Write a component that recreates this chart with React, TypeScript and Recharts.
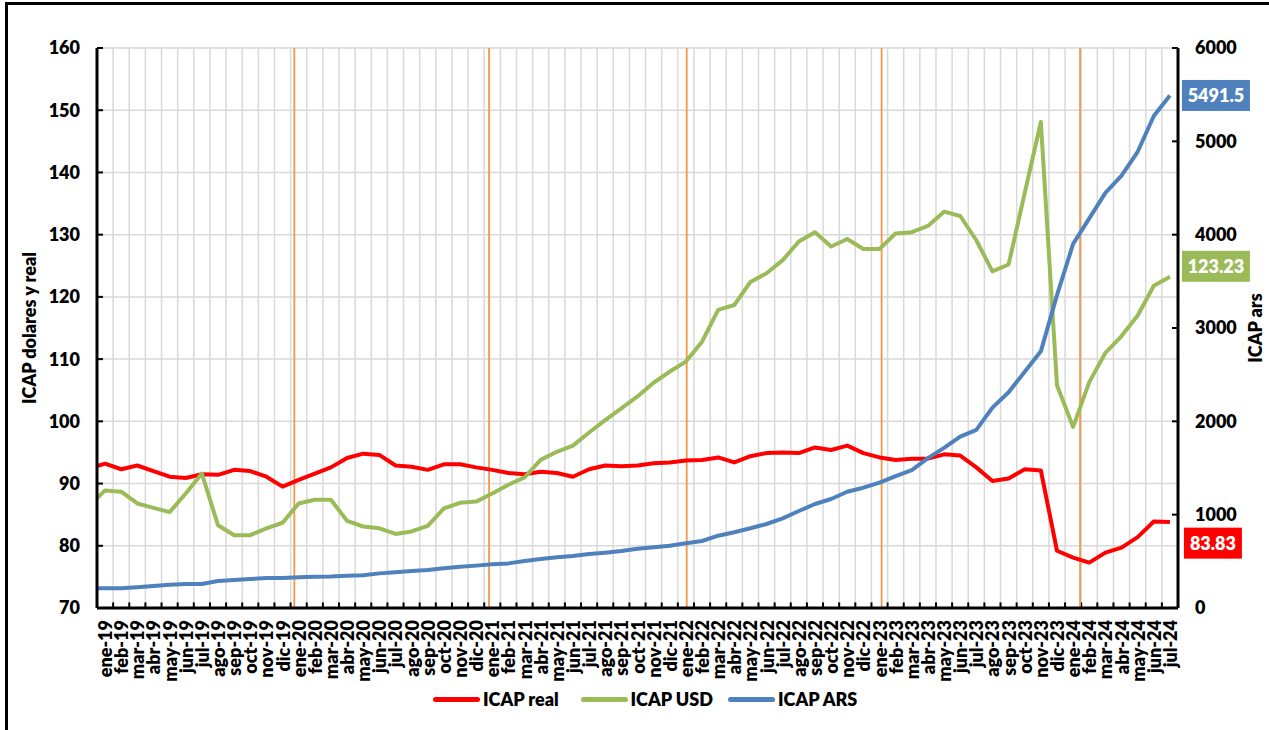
import React from "react";
import {
  CartesianGrid,
  Label,
  Legend,
  Line,
  LineChart,
  ReferenceDot,
  ReferenceLine,
  XAxis,
  YAxis,
} from "recharts";

// ICAP index in real terms, USD and ARS, monthly ene-19 .. jul-24.
// First entry (dic-18) only feeds the clipped segment at the left edge.

const months = [
  "dic-18",
  "ene-19", "feb-19", "mar-19", "abr-19", "may-19", "jun-19", "jul-19", "ago-19", "sep-19", "oct-19", "nov-19", "dic-19",
  "ene-20", "feb-20", "mar-20", "abr-20", "may-20", "jun-20", "jul-20", "ago-20", "sep-20", "oct-20", "nov-20", "dic-20",
  "ene-21", "feb-21", "mar-21", "abr-21", "may-21", "jun-21", "jul-21", "ago-21", "sep-21", "oct-21", "nov-21", "dic-21",
  "ene-22", "feb-22", "mar-22", "abr-22", "may-22", "jun-22", "jul-22", "ago-22", "sep-22", "oct-22", "nov-22", "dic-22",
  "ene-23", "feb-23", "mar-23", "abr-23", "may-23", "jun-23", "jul-23", "ago-23", "sep-23", "oct-23", "nov-23", "dic-23",
  "ene-24", "feb-24", "mar-24", "abr-24", "may-24", "jun-24", "jul-24",
];

const icapReal = [
  92.4,
  93.2, 92.3, 92.9, 92.0, 91.1, 90.9, 91.5, 91.4, 92.2, 92.0, 91.1, 89.5,
  90.6, 91.6, 92.6, 94.1, 94.8, 94.6, 92.9, 92.7, 92.2, 93.1, 93.1, 92.6,
  92.2, 91.7, 91.5, 91.9, 91.7, 91.1, 92.3, 92.9, 92.8, 92.9, 93.25, 93.4,
  93.7, 93.8, 94.2, 93.4, 94.4, 94.9, 95.0, 94.9, 95.8, 95.4, 96.1, 94.9,
  94.2, 93.8, 94.0, 94.0, 94.7, 94.5, 92.6, 90.4, 90.8, 92.3, 92.1, 79.2,
  78.1, 77.3, 78.9, 79.7, 81.4, 83.9, 83.83,
];

const icapUsd = [
  86.4,
  88.9, 88.7, 86.8, 86.1, 85.4, 88.4, 91.6, 83.3, 81.7, 81.7, 82.8, 83.7,
  86.8, 87.4, 87.4, 84.0, 83.1, 82.8, 81.9, 82.3, 83.2, 86.0, 86.9, 87.1,
  88.4, 89.8, 91.0, 93.8, 95.1, 96.1, 98.2, 100.2, 102.1, 104.0, 106.2, 108.0,
  109.6, 112.8, 117.9, 118.7, 122.4, 123.8, 125.9, 128.9, 130.4, 128.1, 129.3, 127.7,
  127.7, 130.2, 130.4, 131.4, 133.7, 133.0, 129.1, 124.1, 125.2, 136.7, 148.1, 105.8,
  99.1, 106.3, 111.0, 113.7, 117.0, 121.8, 123.23,
];

const icapArs = [
  211,
  211, 211, 222, 236, 250, 257, 257, 289, 300, 311, 321, 321,
  329, 336, 338, 346, 352, 371, 382, 396, 407, 425, 443, 454,
  468, 478, 504, 525, 543, 557, 578, 593, 611, 635, 650, 668,
  693, 718, 775, 811, 854, 900, 961, 1039, 1114, 1168, 1246, 1289,
  1343, 1414, 1477, 1606, 1715, 1836, 1909, 2147, 2311, 2531, 2750, 3352,
  3901, 4175, 4448, 4632, 4888, 5271, 5491.5,
];

// hand-drawn year separators (month index, slightly off the grid in the original)
const yearBreaks = [12.73, 24.8, 37.05, 49.13, 61.43];

const leftTicks = [70, 80, 90, 100, 110, 120, 130, 140, 150, 160];
const rightTicks = [0, 1000, 2000, 3000, 4000, 5000, 6000];

const RED = "#FF0000";
const GREEN = "#9BBB59";
const BLUE = "#4F81BD";
const ORANGE = "#F79646";
const GRID = "#D9D9D9";
const FONT = "Lato, 'Open Sans', sans-serif";
const WEIGHT = 800;

const data = months.map((month, i) => ({
  x: i,
  month,
  real: icapReal[i],
  usd: icapUsd[i],
  ars: icapArs[i],
}));

const last = months.length - 1;
const monthTicks = months.map((_, i) => i).slice(1);
const boundaries = monthTicks.slice(0, -1).map((i) => i + 0.5);

function MonthTick({ x, y, payload }: any) {
  return (
    <text
      x={x}
      y={y}
      transform={`rotate(-90 ${x} ${y})`}
      textAnchor="end"
      dominantBaseline="central"
      fontSize={18}
      fontWeight={WEIGHT}
      fontFamily={FONT}
      fill="#000"
    >
      {months[payload.value]}
    </text>
  );
}

function valueBox(text: string, color: string, width: number, dx: number, dy: number) {
  return (props: any) => {
    const { cx, cy } = props;
    const h = 31;
    return (
      <g>
        <rect x={cx + dx} y={cy + dy} width={width} height={h} fill={color} />
        <text
          x={cx + dx + width / 2}
          y={cy + dy + h / 2}
          textAnchor="middle"
          dominantBaseline="central"
          fill="#fff"
          fontSize={18}
          fontWeight={WEIGHT}
          fontFamily={FONT}
        >
          {text}
        </text>
      </g>
    );
  };
}

const legendItems = [
  { name: "ICAP real", color: RED },
  { name: "ICAP USD", color: GREEN },
  { name: "ICAP ARS", color: BLUE },
];

function LegendRow() {
  return (
    <div style={{ display: "flex", alignItems: "center", paddingLeft: 433 }}>
      {legendItems.map((it) => (
        <div key={it.name} style={{ display: "flex", alignItems: "center", width: 147.5 }}>
          <div
            style={{ width: 47, height: 5, borderRadius: 3, background: it.color, marginRight: 3 }}
          />
          <span style={{ fontSize: 18, fontWeight: WEIGHT, color: "#000", fontFamily: FONT }}>
            {it.name}
          </span>
        </div>
      ))}
    </div>
  );
}

export default function App() {
  return (
    <div
      style={{
        position: "absolute",
        left: 0,
        top: 0,
        width: 1269,
        height: 730,
        overflow: "hidden",
        background: "#fff",
        fontFamily: FONT,
        fontWeight: WEIGHT,
      }}
    >
      <LineChart
        width={1269}
        height={730}
        data={data}
        margin={{ top: 48, right: 0, bottom: 22, left: 27 }}
      >
        <CartesianGrid
          yAxisId="left"
          stroke={GRID}
          strokeWidth={1.5}
          verticalValues={boundaries}
        />
        <XAxis
          type="number"
          dataKey="x"
          domain={[0.5, 67.5]}
          allowDataOverflow
          ticks={monthTicks}
          interval={0}
          tick={<MonthTick />}
          tickLine={false}
          tickSize={0}
          tickMargin={12}
          height={100}
          axisLine={{ stroke: "#000", strokeWidth: 3 }}
        />
        <YAxis
          yAxisId="left"
          domain={[70, 160]}
          ticks={leftTicks}
          width={70}
          axisLine={{ stroke: "#000", strokeWidth: 3 }}
          tickLine={{ stroke: "#000", strokeWidth: 2 }}
          tickSize={-6}
          tickMargin={23}
          tick={{ fill: "#000", fontSize: 18, fontWeight: WEIGHT }}
        >
          <Label
            value="ICAP dolares y real"
            angle={-90}
            position="insideLeft"
            offset={3}
            style={{ textAnchor: "middle", fontSize: 18, fontWeight: WEIGHT, fill: "#000" }}
          />
        </YAxis>
        <YAxis
          yAxisId="right"
          orientation="right"
          domain={[0, 6000]}
          ticks={rightTicks}
          width={91}
          axisLine={{ stroke: "#000", strokeWidth: 3 }}
          tickLine={{ stroke: "#000", strokeWidth: 2 }}
          tickSize={-6}
          tickMargin={23}
          tick={{ fill: "#000", fontSize: 18, fontWeight: WEIGHT }}
        >
          <Label
            value="ICAP ars"
            angle={-90}
            position="insideRight"
            offset={13}
            style={{ textAnchor: "middle", fontSize: 18, fontWeight: WEIGHT, fill: "#000" }}
          />
        </YAxis>

        {boundaries.map((b) => (
          <ReferenceLine
            key={`tm-${b}`}
            yAxisId="left"
            segment={[
              { x: b, y: 70 },
              { x: b, y: 70.9 },
            ]}
            stroke="#000"
            strokeWidth={2}
          />
        ))}
        {yearBreaks.map((b) => (
          <ReferenceLine key={`yb-${b}`} yAxisId="left" x={b} stroke={ORANGE} strokeWidth={1.8} />
        ))}

        <Line
          yAxisId="left"
          dataKey="real"
          name="ICAP real"
          stroke={RED}
          strokeWidth={4}
          dot={false}
          activeDot={false}
          strokeLinejoin="round"
          isAnimationActive={false}
        />
        <Line
          yAxisId="left"
          dataKey="usd"
          name="ICAP USD"
          stroke={GREEN}
          strokeWidth={4}
          dot={false}
          activeDot={false}
          strokeLinejoin="round"
          isAnimationActive={false}
        />
        <Line
          yAxisId="right"
          dataKey="ars"
          name="ICAP ARS"
          stroke={BLUE}
          strokeWidth={4}
          dot={false}
          activeDot={false}
          strokeLinejoin="round"
          isAnimationActive={false}
        />

        <ReferenceDot
          yAxisId="right"
          x={last}
          y={icapArs[last]}
          shape={valueBox(String(icapArs[last]), BLUE, 68, 12, -15.5)}
        />
        <ReferenceDot
          yAxisId="left"
          x={last}
          y={icapUsd[last]}
          shape={valueBox(String(icapUsd[last]), GREEN, 68, 12, -26)}
        />
        <ReferenceDot
          yAxisId="left"
          x={last}
          y={icapReal[last]}
          shape={valueBox(String(icapReal[last]), RED, 58, 14, 5.7)}
        />

        <Legend
          layout="horizontal"
          verticalAlign="middle"
          align="center"
          wrapperStyle={{ left: 0, top: 688, width: 1269 }}
          content={() => <LegendRow />}
        />
      </LineChart>
      <div
        style={{
          position: "absolute",
          left: 5,
          top: 2,
          width: 1400,
          height: 900,
          border: "3px solid #000",
          boxSizing: "border-box",
          pointerEvents: "none",
        }}
      />
    </div>
  );
}
